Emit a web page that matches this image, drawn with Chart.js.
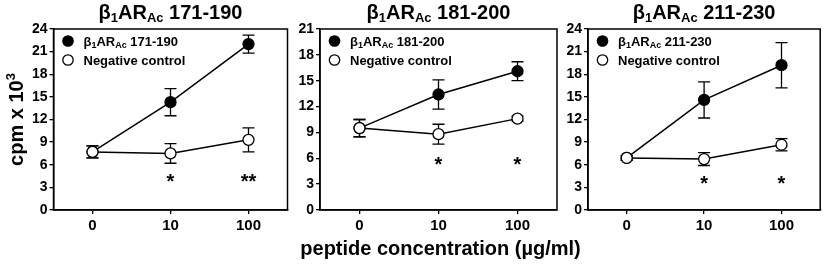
<!DOCTYPE html>
<html><head><meta charset="utf-8">
<script src="https://cdn.jsdelivr.net/npm/chart.js@4/dist/chart.umd.min.js"></script>
<style>
html,body{margin:0;padding:0;background:#fff;}
#wrap{position:relative;width:827px;height:268px;overflow:hidden;}
#wrap canvas{position:absolute;left:0;top:0;}
</style></head><body>
<div id="wrap">
<canvas id="c1" width="827" height="268"></canvas>
<canvas id="c2" width="827" height="268"></canvas>
<canvas id="c3" width="827" height="268"></canvas>
</div>
<script>
// ---- data ----
const categories = ['0', '10', '100'];
const peptideRanges = ['171-190', '181-200', '211-230'];
const controlLabel = 'Negative control';
const yTitleBase = 'cpm x 10';
const yTitleExp = '3';
const xTitle = 'peptide concentration (µg/ml)';

const p1Peptide = [7.7, 14.3, 22.0];
const p1PeptideErr = [0.8, 1.8, 1.2];
const p1Control = [7.7, 7.5, 9.3];
const p1ControlErr = [0.8, 1.3, 1.6];
const p1Stars = ['', '*', '**'];

const p2Peptide = [9.5, 13.4, 16.1];
const p2PeptideErr = [1.0, 1.7, 1.1];
const p2Control = [9.5, 8.8, 10.6];
const p2ControlErr = [1.0, 1.15, 0.3];
const p2Stars = ['', '*', '*'];

const p3Peptide = [6.9, 14.6, 19.2];
const p3PeptideErr = [0.3, 2.4, 3.0];
const p3Control = [6.9, 6.75, 8.65];
const p3ControlErr = [0.3, 0.85, 0.82];
const p3Stars = ['', '*', '*'];

const yMaxes = [24, 21, 24];

// ---- drawing helpers ----
const FONT = '"Liberation Sans", Arial, sans-serif';
Chart.defaults.font.family = FONT;
Chart.defaults.color = '#000';

function richSegs(range, big, small, dy) {
  return [
    {text: 'β', size: big}, {text: '1', size: small, dy: dy},
    {text: 'AR', size: big}, {text: 'Ac', size: small, dy: dy},
    {text: ' ' + range, size: big}
  ];
}
function drawRich(ctx, segs, x, y, align) {
  let total = 0;
  segs.forEach(s => { ctx.font = 'bold ' + s.size + 'px ' + FONT; s.w = ctx.measureText(s.text).width; total += s.w; });
  let cx = align === 'center' ? x - total / 2 : x;
  ctx.textAlign = 'left';
  ctx.textBaseline = 'alphabetic';
  segs.forEach(s => { ctx.font = 'bold ' + s.size + 'px ' + FONT; ctx.fillText(s.text, cx, y + (s.dy || 0)); cx += s.w; });
}

const panelPlugin = {
  id: 'panel',
  beforeDatasetsDraw(chart, args, o) {
    const ctx = chart.ctx, ys = chart.scales.y;
    ctx.save();
    ctx.strokeStyle = '#000';
    ctx.lineWidth = 1.3;
    chart.data.datasets.forEach((ds, i) => {
      const meta = chart.getDatasetMeta(i);
      const errs = o.errors[i];
      meta.data.forEach((pt, j) => {
        const v = ds.data[j], e = errs[j];
        const top = ys.getPixelForValue(v + e), bot = ys.getPixelForValue(v - e);
        ctx.beginPath();
        ctx.moveTo(pt.x, top); ctx.lineTo(pt.x, bot);
        ctx.moveTo(pt.x - 6, top); ctx.lineTo(pt.x + 6, top);
        ctx.moveTo(pt.x - 6, bot); ctx.lineTo(pt.x + 6, bot);
        ctx.stroke();
      });
    });
    ctx.restore();
  },
  afterDraw(chart, args, o) {
    const ctx = chart.ctx, a = chart.chartArea, xs = chart.scales.x, ys = chart.scales.y;
    ctx.save();
    // box
    ctx.strokeStyle = '#000';
    ctx.lineWidth = 1.5;
    ctx.strokeRect(a.left, a.top, a.right - a.left, a.bottom - a.top);
    ctx.fillStyle = '#000';
    // stars
    ctx.font = 'bold 20px ' + FONT;
    ctx.textAlign = 'center';
    ctx.textBaseline = 'alphabetic';
    o.stars.forEach((s, j) => {
      if (!s) return;
      const m = ctx.measureText(s);
      const cy = ys.getPixelForValue(o.starLevel);
      const base = cy + (m.actualBoundingBoxAscent - m.actualBoundingBoxDescent) / 2;
      ctx.fillText(s, xs.getPixelForValue(j), base);
    });
    // legend
    const mx = a.left + 14.5, r1 = a.top + 12, r2 = a.top + 31;
    ctx.lineWidth = 1.3;
    ctx.beginPath(); ctx.arc(mx, r1, 5.2, 0, Math.PI * 2); ctx.fillStyle = '#000'; ctx.fill(); ctx.stroke();
    ctx.beginPath(); ctx.arc(mx, r2, 5.2, 0, Math.PI * 2); ctx.fillStyle = '#fff'; ctx.fill(); ctx.stroke();
    ctx.fillStyle = '#000';
    drawRich(ctx, richSegs(o.range, 13, 9, 2.5), a.left + 30, r1 + 4.7, 'left');
    drawRich(ctx, [{text: controlLabel, size: 13}], a.left + 30, r2 + 4.7, 'left');
    // title
    drawRich(ctx, richSegs(o.range, 20, 13, 3), (a.left + a.right) / 2, 18.5, 'center');
    // axis titles
    if (o.yTitle) {
      ctx.save();
      ctx.translate(23, (a.top + a.bottom) / 2);
      ctx.rotate(-Math.PI / 2);
      drawRich(ctx, [{text: yTitleBase, size: 20}, {text: yTitleExp, size: 13, dy: -8}], 0, 0, 'center');
      ctx.restore();
    }
    if (o.xTitle) {
      ctx.font = 'bold 20px ' + FONT;
      ctx.textAlign = 'center';
      ctx.textBaseline = 'middle';
      ctx.fillText(xTitle, (a.left + a.right) / 2 + 2, 249);
    }
    ctx.restore();
  }
};

function makeChart(id, idx, pep, ctrl, pepErr, ctrlErr, stars, starLevel, layout) {
  const axisGrid = {display: true, drawOnChartArea: false, drawTicks: true, tickLength: 4, color: '#000', lineWidth: 1.3};
  const yScale = {
    min: 0, max: yMaxes[idx],
    ticks: {stepSize: 3, font: {size: 14, weight: 'bold'}, padding: 2, color: '#000'},
    grid: axisGrid,
    border: {display: true, color: '#000', width: 1.5},
    afterFit(s) { s.width = layout.yWidth; }
  };
  const xScale = {
    type: 'category', labels: categories, offset: true,
    ticks: {font: {size: 15, weight: 'bold'}, padding: 3, color: '#000'},
    grid: axisGrid,
    border: {display: true, color: '#000', width: 1.5},
    afterFit(s) { s.height = 58; }
  };
  return new Chart(document.getElementById(id), {
    type: 'line',
    data: {
      labels: categories,
      datasets: [
        {label: 'β1ARAc ' + peptideRanges[idx], data: pep, order: 1, borderColor: '#000', borderWidth: 1.5,
         pointRadius: 5.5, pointBorderWidth: 1.3, pointBackgroundColor: '#000', pointBorderColor: '#000', tension: 0},
        {label: controlLabel, data: ctrl, order: 0, borderColor: '#000', borderWidth: 1.5,
         pointRadius: 5.5, pointBorderWidth: 1.3, pointBackgroundColor: '#fff', pointBorderColor: '#000', tension: 0}
      ]
    },
    options: {
      responsive: false, animation: false, events: [], devicePixelRatio: 1,
      layout: {padding: {left: layout.left, right: layout.right, top: 29, bottom: 0}},
      scales: {x: xScale, y: yScale},
      plugins: {
        legend: {display: false}, tooltip: {enabled: false},
        panel: {range: peptideRanges[idx], errors: [pepErr, ctrlErr], stars: stars, starLevel: starLevel,
                yTitle: !!layout.yTitle, xTitle: !!layout.xTitle}
      }
    },
    plugins: [panelPlugin]
  });
}

makeChart('c1', 0, p1Peptide, p1Control, p1PeptideErr, p1ControlErr, p1Stars, 4.2,
  {left: 0, right: 539.5, yWidth: 53.5, yTitle: true});
makeChart('c2', 1, p2Peptide, p2Control, p2PeptideErr, p2ControlErr, p2Stars, 5.7,
  {left: 284, right: 270, yWidth: 36, xTitle: true});
makeChart('c3', 2, p3Peptide, p3Control, p3PeptideErr, p3ControlErr, p3Stars, 4.0,
  {left: 552, right: 2, yWidth: 36});
</script>
</body></html>
